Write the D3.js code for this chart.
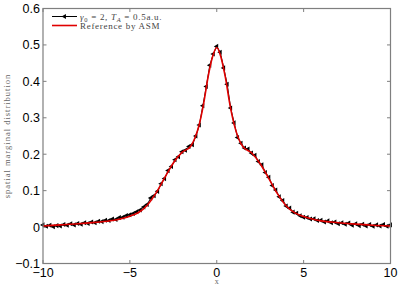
<!DOCTYPE html>
<html>
<head>
<meta charset="utf-8">
<script src="https://cdn.jsdelivr.net/npm/d3@7"></script>
<style>
  body { margin: 0; background: #fff; }
  svg { display: block; }
</style>
</head>
<body>
<div id="chart"></div>
<script>
// reference curve (ASM)
var refX = [-10, -9, -8, -7, -6, -5.5, -5, -4.5, -4, -3.5, -3, -2.5, -2, -1.5, -1.25, -1, -0.75, -0.5, -0.25, 0,
            0.25, 0.5, 0.75, 1, 1.25, 1.5, 2, 2.5, 3, 3.5, 4, 4.5, 5, 5.5, 6, 7, 8, 9, 10];
var refY = [0.003, 0.006, 0.009, 0.013, 0.018, 0.023, 0.030, 0.040, 0.060, 0.093, 0.135, 0.176, 0.205, 0.222, 0.245, 0.283, 0.340, 0.412, 0.466, 0.493,
            0.465, 0.410, 0.338, 0.282, 0.244, 0.221, 0.204, 0.174, 0.133, 0.091, 0.058, 0.039, 0.029, 0.022, 0.017, 0.012, 0.008, 0.005, 0.003];

// simulated series (gamma0 = 2, TA = 0.5 a.u.), x from -10 to 10 step 0.2
var simX = [-10, -9.8, -9.6, -9.4, -9.2, -9, -8.8, -8.6, -8.4, -8.2, -8, -7.8, -7.6, -7.4, -7.2, -7, -6.8, -6.6, -6.4, -6.2,
            -6, -5.8, -5.6, -5.4, -5.2, -5, -4.8, -4.6, -4.4, -4.2, -4, -3.8, -3.6, -3.4, -3.2, -3, -2.8, -2.6, -2.4, -2.2,
            -2, -1.8, -1.6, -1.4, -1.2, -1, -0.8, -0.6, -0.4, -0.2, 0, 0.2, 0.4, 0.6, 0.8, 1, 1.2, 1.4, 1.6, 1.8,
            2, 2.2, 2.4, 2.6, 2.8, 3, 3.2, 3.4, 3.6, 3.8, 4, 4.2, 4.4, 4.6, 4.8, 5, 5.2, 5.4, 5.6, 5.8,
            6, 6.2, 6.4, 6.6, 6.8, 7, 7.2, 7.4, 7.6, 7.8, 8, 8.2, 8.4, 8.6, 8.8, 9, 9.2, 9.4, 9.6, 9.8, 10];
var simY = [0.006, 0.002, 0.005, 0.001, 0.004, 0.003, 0.007, 0.005, 0.009, 0.006, 0.010, 0.008, 0.012, 0.010, 0.014, 0.012, 0.016, 0.015, 0.019, 0.018,
            0.022, 0.021, 0.026, 0.027, 0.032, 0.034, 0.037, 0.042, 0.047, 0.055, 0.062, 0.080, 0.086, 0.098, 0.119, 0.133, 0.155, 0.166, 0.185, 0.193,
            0.207, 0.211, 0.221, 0.226, 0.250, 0.280, 0.333, 0.386, 0.444, 0.475, 0.496, 0.480, 0.437, 0.392, 0.327, 0.286, 0.246, 0.230, 0.217, 0.214,
            0.203, 0.197, 0.180, 0.171, 0.150, 0.137, 0.114, 0.102, 0.083, 0.073, 0.058, 0.052, 0.041, 0.038, 0.031, 0.027, 0.026, 0.022, 0.023, 0.018,
            0.019, 0.014, 0.017, 0.012, 0.014, 0.009, 0.012, 0.008, 0.011, 0.005, 0.009, 0.004, 0.008, 0.003, 0.007, 0.002, 0.006, 0.003, 0.007, 0.002, 0.006];

var xTicks = [-10, -5, 0, 5, 10];
var yTicks = [-0.1, 0, 0.1, 0.2, 0.3, 0.4, 0.5, 0.6];

var w = 401, h = 286;
var padL = 43, padR = 390.5, padT = 8.5, padB = 263.5;

var svg = d3.select('#chart').append('svg')
    .attr('width', w)
    .attr('height', h);

var x = d3.scaleLinear().domain([-10, 10]).range([padL, padR]);
var y = d3.scaleLinear().domain([-0.1, 0.6]).range([padB, padT]);

var axisColor = '#7f7f7f';
var tick = 3.5;
var fmt = function(d) { return d3.format('')(d); };

// axes (MATLAB box with inward ticks)
var ax = svg.append('g')
    .attr('font-family', 'Liberation Sans, Arial, sans-serif')
    .attr('font-size', 12.5);

ax.selectAll('line.xt').data(xTicks).enter().append('line')
    .attr('x1', d => x(d)).attr('x2', d => x(d))
    .attr('y1', padB).attr('y2', padB - tick)
    .attr('stroke', axisColor);
ax.selectAll('line.xt2').data(xTicks).enter().append('line')
    .attr('x1', d => x(d)).attr('x2', d => x(d))
    .attr('y1', padT).attr('y2', padT + tick)
    .attr('stroke', axisColor);
ax.selectAll('line.yt').data(yTicks).enter().append('line')
    .attr('x1', padL).attr('x2', padL + tick)
    .attr('y1', d => y(d)).attr('y2', d => y(d))
    .attr('stroke', axisColor);
ax.selectAll('line.yt2').data(yTicks).enter().append('line')
    .attr('x1', padR).attr('x2', padR - tick)
    .attr('y1', d => y(d)).attr('y2', d => y(d))
    .attr('stroke', axisColor);

ax.selectAll('text.xl').data(xTicks).enter().append('text')
    .attr('x', d => x(d)).attr('y', 277)
    .attr('text-anchor', 'middle')
    .text(fmt);
ax.selectAll('text.yl').data(yTicks).enter().append('text')
    .attr('x', padL - 3).attr('y', d => y(d) + 4.5)
    .attr('text-anchor', 'end')
    .text(fmt);

// black simulated line with markers
var line = d3.line().x((d, i) => x(simX[i])).y(d => y(d));
svg.append('path')
    .attr('d', line(simY))
    .attr('fill', 'none')
    .attr('stroke', '#000')
    .attr('stroke-width', 1);

var tri = d3.symbol().type(d3.symbolTriangle).size(11);
svg.selectAll('path.mk').data(simY).enter().append('path')
    .attr('d', tri())
    .attr('transform', (d, i) => 'translate(' + x(simX[i]) + ',' + y(d) + ') rotate(-90)')
    .attr('fill', '#000');

// red reference
var rline = d3.line().x((d, i) => x(refX[i])).y(d => y(d)).curve(d3.curveMonotoneX);
svg.append('path')
    .attr('d', rline(refY))
    .attr('fill', 'none')
    .attr('stroke', '#e00000')
    .attr('stroke-width', 1.6);

// box
svg.append('rect')
    .attr('x', padL).attr('y', padT)
    .attr('width', padR - padL).attr('height', padB - padT)
    .attr('fill', 'none')
    .attr('stroke', axisColor)
    .attr('stroke-width', 1.2);

// legend
var lg = svg.append('g')
    .attr('font-family', 'Liberation Serif, DejaVu Serif, serif')
    .attr('font-size', 9)
    .attr('letter-spacing', 0.7)
    .attr('fill', '#444');
lg.append('line').attr('x1', 52).attr('x2', 77).attr('y1', 16.5).attr('y2', 16.5)
    .attr('stroke', '#000').attr('stroke-width', 1);
lg.append('path').attr('d', tri()).attr('transform', 'translate(64.5,16.5) rotate(-90)').attr('fill', '#000');
lg.append('line').attr('x1', 52).attr('x2', 77).attr('y1', 25.5).attr('y2', 25.5)
    .attr('stroke', '#e00000').attr('stroke-width', 1.6);

var t1 = lg.append('text').attr('x', 80).attr('y', 19.5);
t1.append('tspan').attr('font-style', 'italic').text('γ');
t1.append('tspan').attr('font-size', 6.5).attr('dy', 2).text('0');
t1.append('tspan').attr('dy', -2).text(' = 2, ');
t1.append('tspan').attr('font-style', 'italic').text('T');
t1.append('tspan').attr('font-size', 6.5).attr('font-style', 'italic').attr('dy', 2).text('A');
t1.append('tspan').attr('dy', -2).text(' = 0.5a.u.');
lg.append('text').attr('x', 80).attr('y', 28.5).text('Reference by ASM');

// axis titles
svg.append('text')
    .attr('x', x(0)).attr('y', 284)
    .attr('text-anchor', 'middle')
    .attr('font-family', 'Liberation Serif, DejaVu Serif, serif')
    .attr('font-size', 8)
    .attr('fill', '#666')
    .text('x');
svg.append('text')
    .attr('transform', 'translate(10,' + ((padT + padB) / 2) + ') rotate(-90)')
    .attr('text-anchor', 'middle')
    .attr('font-family', 'Liberation Serif, DejaVu Serif, serif')
    .attr('font-size', 8.5)
    .attr('letter-spacing', 1)
    .attr('fill', '#666')
    .text('spatial marginal distribution');
</script>
</body>
</html>
